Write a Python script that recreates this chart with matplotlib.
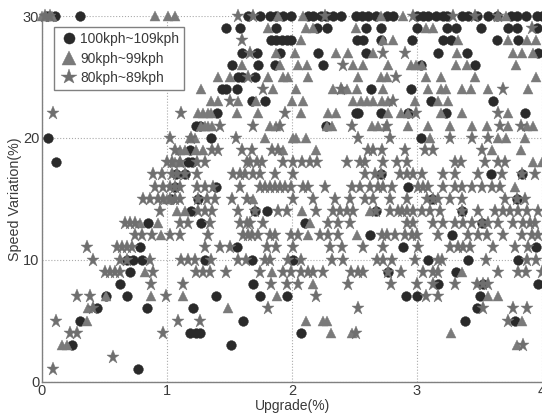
import matplotlib
matplotlib.use("Agg")
import matplotlib.pyplot as plt

plt.rcParams['font.family'] = ['Liberation Sans', 'DejaVu Sans']

x_ticks = [0, 1, 2, 3, 4]
y_ticks = [0, 10, 20, 30]
x_label = "Upgrade(%)"
y_label = "Speed Variation(%)"
names = ["100kph~109kph", "90kph~99kph", "80kph~89kph"]

circles = {
    30: [.04,.10,.30,1.65,1.74,1.82,1.87,1.93,1.99,2.13,2.17,2.23,2.27,2.33,2.39,2.51,2.56,2.61,2.67,2.76,2.81,3.0,3.05,3.09,3.15,3.21,3.24,3.36,3.41,3.48,3.57,3.64,3.75,3.8,3.87,3.96,4.0],
    29: [1.47,1.58,1.87,2.2,2.28,2.59,2.71,3.0,3.24,3.31,3.51,3.73,3.8,3.96],
    28: [1.83,1.87,1.92,1.96,1.99,2.52,2.57,2.71,2.96,3.21,3.27,3.64,3.81],
    27: [1.6,1.72,1.9,2.21,2.59,3.17,3.4,3.97],
    26: [1.52,1.73,1.86,2.25,3.03,3.46],
    25: [1.57,1.6,1.7],
    24: [1.44,1.47,1.56,2.63,2.95],
    23: [1.68,1.78,3.11,3.61],
    22: [1.4,2.51,2.53,2.71,2.93,3.23,3.86],
    21: [1.23,1.26,2.27],
    20: [.05,1.35,3.03],
    19: [1.18],
    18: [.11,1.17,1.2],
    17: [1.07,1.14,2.71,3.59,3.84],
    16: [1.06,1.39,2.93],
    15: [1.03,1.25,3.12,3.8],
    14: [1.19,1.7,1.8,2.67,3.36],
    13: [.85,1.27,2.1,3.52],
    12: [2.62,3.28],
    11: [.78,1.56,2.89,3.95],
    10: [.68,.73,.8,1.3,1.68,2.01,3.09,3.41,3.81],
    9: [.7,2.77,3.31],
    8: [.62,1.69,3.17,3.53,3.97],
    7: [.51,.68,1.39,1.74,1.96,2.91,3.0,3.5],
    6: [.44,.84,1.21,3.48],
    5: [.3,1.61,3.38,3.78],
    4: [1.18,1.23,1.26,2.07],
    3: [.24,1.51],
    1: [.77],
}
triangles = {
    30: [0,.03,.06,.08,.9,1.01,1.06,1.89,2.09,2.71,2.89,3.65,3.71],
    29: [1.81,2.11,2.17,2.51,3.07,3.13],
    28: [2.07,2.73,2.81,3.33,3.73,3.88,3.95],
    27: [1.87,2.02,2.35,2.45,2.65,3.32,3.77,3.84,3.93],
    26: [1.6,1.9,2.05,2.12,2.49,2.57,2.77,2.95,2.99,3.04,3.31,3.4,3.79],
    25: [1.41,1.5,1.81,1.93,1.97,2.13,2.53,2.71,2.76,3.07,3.19,3.46,3.95],
    24: [1.27,1.85,2.03,2.33,2.4,2.44,2.52,2.73,3.09,3.19,3.23,3.36,3.43,3.57,3.89],
    23: [1.35,1.41,1.57,1.71,2.0,2.09,2.49,2.55,2.6,2.65,2.72,2.77,2.98,3.17,3.25],
    22: [1.25,1.29,1.33,1.35,1.56,1.73,2.07,2.29,2.35,2.77,2.87,2.93,3.19,3.36,3.73],
    21: [1.27,1.3,1.33,1.36,1.82,1.87,2.28,2.32,2.64,2.69,2.75,2.93,3.09,3.26,3.44,3.56,3.73,3.88,3.93],
    20: [1.18,1.22,1.78,2.01,2.03,2.11,3.1,3.65,3.71,3.86],
    19: [1.1,1.14,1.23,1.29,1.93,2.19,3.6,3.83],
    18: [1.06,1.1,3.93,4.0],
    16: [3.78],
    15: [1.0,1.02,1.69],
    14: [1.08,1.14,2.08,2.62],
    13: [.78,.93,2.14],
    12: [.95,2.13,2.52],
    9: [.82,1.84,3.36],
    8: [2.17],
    7: [.51,.87,1.13,1.88,3.57,3.65],
    6: [.37,1.49],
    5: [.36,2.11,2.25,2.28,3.84],
    4: [2.31,2.48,3.27],
    3: [.16,.2,3.8],
}
stars = {
    30: [.02,.06,1.57,1.69,2.26,2.97,3.29,3.46,3.65],
    29: [3.92],
    28: [1.6],
    27: [1.66,2.73,2.9],
    26: [2.41],
    25: [1.65,2.83],
    24: [1.77,2.39,3.69],
    23: [1.5,2.81],
    22: [.085,1.11,1.94,2.99,3.65],
    21: [1.42,1.69,1.9,2.48,2.76,3.66,3.83],
    20: [1.02,1.19,1.55,2.53,2.78,3.26,3.44,3.57],
    19: [1.06,1.36,1.41,1.6,1.68,1.84,1.89,2.61,2.65,2.72,2.9,3.06,3.13,3.52],
    18: [1.0,1.04,1.1,1.24,1.3,1.64,1.66,1.72,1.76,1.93,2.01,2.08,2.14,2.2,2.44,2.54,2.58,2.73,2.84,2.92,3.3,3.35,3.54,3.65,3.7],
    17: [.89,.96,1.04,1.08,1.14,1.24,1.53,1.58,1.62,1.69,1.74,1.86,2.01,2.58,2.66,2.71,2.86,2.92,2.97,3.04,3.21,3.3,3.49,3.68,3.84,3.94],
    16: [.9,.97,1.02,1.06,1.1,1.24,1.3,1.37,1.58,1.74,1.78,1.82,1.86,1.9,1.94,1.99,2.09,2.13,2.26,2.48,2.54,2.62,2.69,2.73,2.8,3.01,3.05,3.09,3.21,3.3,3.36,3.44,3.52,3.6,3.66],
    15: [.81,.86,.93,.97,1.02,1.06,1.1,1.25,1.32,1.38,1.52,1.64,2.01,2.17,2.34,2.46,2.58,2.65,2.78,2.92,3.08,3.13,3.17,3.26,3.36,3.7,3.8,3.86],
    14: [.94,1.25,1.3,1.36,1.57,1.7,1.89,1.96,2.19,2.33,2.38,2.44,2.49,2.67,2.78,2.85,2.88,2.92,2.97,3.04,3.1,3.18,3.36,3.49,3.62,3.69,3.74,3.81,3.88,3.97],
    13: [.66,.7,.74,1.1,1.17,1.34,1.58,1.64,1.66,1.77,2.29,2.37,2.46,2.92,2.97,3.13,3.21,3.3,3.37,3.44,3.52,3.57,3.65,3.77,3.85,3.9,3.94],
    12: [.74,.8,.88,1.02,1.1,1.33,1.61,1.65,1.68,1.73,1.82,1.86,1.99,2.05,2.22,2.29,2.37,2.72,2.76,2.82,2.9,2.96,3.0,3.17,3.41,3.49,3.56,3.69,3.84,3.92,3.97],
    11: [.36,.6,.64,.68,.72,1.3,1.42,1.5,1.8,1.87,2.01,2.3,2.4,2.57,2.73,3.01,3.26,3.33,3.37,3.42,3.61,3.78,3.89],
    10: [.41,.62,.68,.86,1.11,1.17,1.22,1.35,1.57,1.63,1.78,1.82,1.97,2.07,2.32,2.41,2.68,2.73,2.8,2.98,3.17,3.2,3.55,3.88,3.95],
    9: [.5,.54,.58,.62,.89,1.23,1.29,1.34,1.47,1.74,1.93,1.99,2.07,2.13,2.17,2.25,2.47,2.53,2.57,2.77,2.87,3.05,3.13,3.17,3.65,3.81,3.87,4.0],
    8: [.87,1.13,1.83,1.96,2.05,2.45,2.79,3.0,3.13,3.3,3.48,3.53,3.57],
    7: [.28,.38,.99,2.19,3.07,3.17],
    6: [.41,1.81,2.53,3.53,3.77,3.88],
    5: [.11,1.09,1.26,3.73],
    4: [.22,.28,.97,2.51],
    3: [3.85],
    2: [.57],
    1: [.085],
}


def flatten(rows):
    xs, ys = [], []
    for y, row in rows.items():
        xs.extend(row)
        ys.extend([y] * len(row))
    return xs, ys


W, H = 542, 416
fig = plt.figure(figsize=(W / 100, H / 100), dpi=100)
ax = fig.add_axes([42 / W, 1 - 381.5 / H, 500 / W, 365.5 / H])
ax.set_xlim(0, 4)
ax.set_ylim(0, 30)

for series, marker, ms, col, z, name in [
    (circles, 'o', 7.0, '#2a2a2a', 3, names[0]),
    (triangles, '^', 7.8, '#7a7a7a', 4, names[1]),
    (stars, '*', 9.8, '#6f6f6f', 5, names[2]),
]:
    xs, ys = flatten(series)
    ax.plot(xs, ys, ls='none', marker=marker, ms=ms, mfc=col, mec=col, mew=0.3,
            zorder=z, label=name, clip_on=False)

ax.set_xticks(x_ticks)
ax.set_yticks(y_ticks)
ax.grid(True, ls=':', lw=0.8, color='#aaaaaa', zorder=1)
ax.set_axisbelow(True)
for s in ['top', 'right']:
    ax.spines[s].set_visible(False)
for s in ['left', 'bottom']:
    ax.spines[s].set_color('#808080')
    ax.spines[s].set_linewidth(1.0)
ax.tick_params(length=0, pad=2, labelsize=10.5, colors='#3a3a3a')
ax.set_xlabel(x_label, fontsize=10, color='#3a3a3a', labelpad=0.5)
ax.set_ylabel(y_label, fontsize=10.3, color='#3a3a3a', labelpad=0.8)

leg = ax.legend(loc='upper left', bbox_to_anchor=(54 / W, 1 - 27 / H), bbox_transform=fig.transFigure,
                fontsize=10, frameon=True, fancybox=False, framealpha=1, edgecolor='#808080',
                labelspacing=0.39, handletextpad=0.05, handlelength=1.45, borderpad=0.38, borderaxespad=0)
leg.set_zorder(10)
for t in leg.get_texts():
    t.set_color('#3a3a3a')
for h, ms in zip(leg.legend_handles, [8.0, 9.5, 11.5]):
    h.set_markersize(ms)

fig.savefig('out.png', dpi=100)
